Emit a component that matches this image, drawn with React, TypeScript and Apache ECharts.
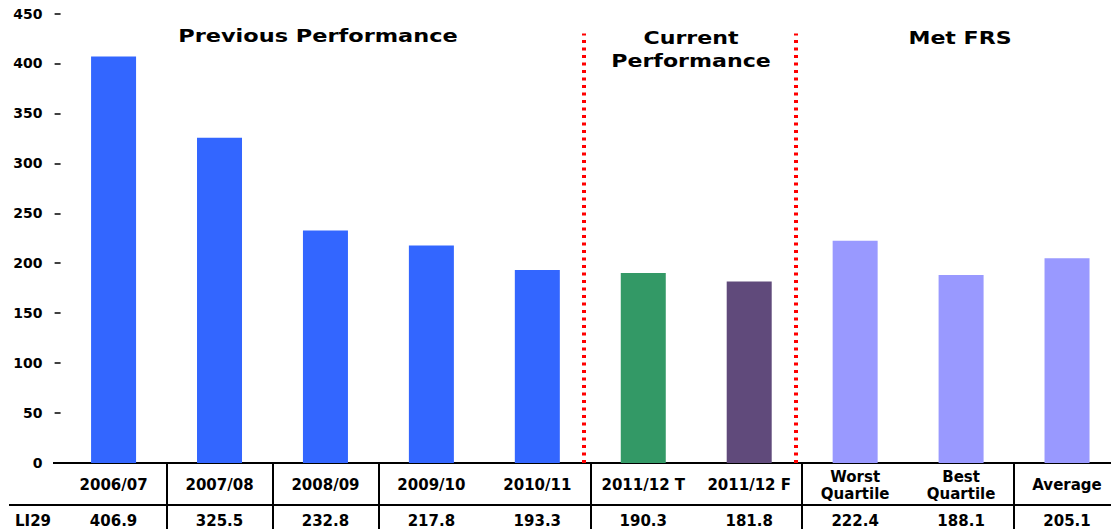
import React, { useEffect, useRef } from "react";
import * as echarts from "echarts";

// ---- data ----
const categories = [
  "2006/07",
  "2007/08",
  "2008/09",
  "2009/10",
  "2010/11",
  "2011/12 T",
  "2011/12 F",
  "Worst\nQuartile",
  "Best\nQuartile",
  "Average",
];
const values = [406.9, 325.5, 232.8, 217.8, 193.3, 190.3, 181.8, 222.4, 188.1, 205.1];
const barColors = [
  "#3366FF",
  "#3366FF",
  "#3366FF",
  "#3366FF",
  "#3366FF",
  "#339966",
  "#604A7B",
  "#9999FF",
  "#9999FF",
  "#9999FF",
];
const rowLabel = "LI29";
const yMin = 0;
const yMax = 450;
const yInterval = 50;
// table dividers sit at the left boundary of these category indices
const dividerIndices = [1, 2, 3, 5, 7, 9];
// section separators (positions on a hidden 0..10 band scale) and their top value
const separatorPositions = [4.94, 6.94];
const separatorTop = 430;
const sectionTitles = ["Previous Performance", "Current", "Performance", "Met FRS"];

const FONT = '"DejaVu Sans", "Liberation Sans", sans-serif';

export default function App() {
  const ref = useRef<HTMLDivElement | null>(null);

  useEffect(() => {
    if (!ref.current) return;
    const chart = echarts.init(ref.current, null, { renderer: "svg" });

    const tickFn = (i: number) => dividerIndices.includes(i);
    const blackLine = { color: "#000", width: 2 };
    const labelBase = {
      fontFamily: FONT,
      fontWeight: "bold" as const,
      fontSize: 15,
      color: "#000",
    };
    const titleStyle = (text: string) => ({
      text,
      font: `bold 17px ${FONT}`,
      fill: "#000",
      textAlign: "center",
      textVerticalAlign: "middle",
    });

    chart.setOption({
      animation: false,
      grid: { left: 60.6, right: 0, top: 13.5, bottom: 66 },
      xAxis: [
        {
          type: "category",
          data: categories,
          position: "bottom",
          axisLine: { show: true, lineStyle: blackLine },
          axisTick: { show: true, length: 42, interval: tickFn, lineStyle: blackLine },
          axisLabel: {
            ...labelBase,
            interval: 0,
            margin: 22,
            verticalAlign: "middle",
            lineHeight: 17,
          },
          splitLine: { show: false },
        },
        {
          type: "category",
          data: values.map((v) => v.toFixed(1)),
          position: "bottom",
          offset: 42,
          axisLine: { show: true, lineStyle: blackLine },
          axisTick: { show: true, length: 26, interval: tickFn, lineStyle: blackLine },
          axisLabel: {
            ...labelBase,
            interval: 0,
            margin: 16,
            verticalAlign: "middle",
          },
          splitLine: { show: false },
        },
        {
          type: "value",
          min: 0,
          max: categories.length,
          show: false,
        },
      ],
      yAxis: {
        type: "value",
        min: yMin,
        max: yMax,
        interval: yInterval,
        offset: 1,
        axisLine: { show: false },
        axisTick: { show: true, length: 6, lineStyle: { color: "#000", width: 1.5 } },
        axisLabel: { ...labelBase, fontSize: 14, margin: 17 },
        splitLine: { show: false },
      },
      series: [
        {
          type: "bar",
          xAxisIndex: 0,
          barWidth: 45,
          silent: true,
          data: values.map((v, i) => ({ value: v, itemStyle: { color: barColors[i] } })),
        },
        {
          type: "scatter",
          xAxisIndex: 2,
          symbolSize: 0,
          silent: true,
          data: [[separatorPositions[0], 0]],
          markLine: {
            symbol: "none",
            silent: true,
            label: { show: false },
            lineStyle: { color: "#FF0000", width: 4, type: [3, 4.5] },
            data: separatorPositions.map((x) => [
              { coord: [x, 0] },
              { coord: [x, separatorTop] },
            ]),
          },
        },
      ],
      graphic: [
        {
          type: "line",
          silent: true,
          shape: { x1: 53, y1: 463, x2: 62, y2: 463 },
          style: { stroke: "#000", lineWidth: 2 },
        },
        {
          type: "line",
          silent: true,
          shape: { x1: 9, y1: 505, x2: 62, y2: 505 },
          style: { stroke: "#000", lineWidth: 2 },
        },
        {
          type: "text",
          silent: true,
          x: 15,
          y: 521,
          style: {
            text: rowLabel,
            font: `bold 15px ${FONT}`,
            fill: "#000",
            textAlign: "left",
            textVerticalAlign: "middle",
          },
        },
        {
          type: "text",
          silent: true,
          x: 318,
          y: 36,
          scaleX: 1.32,
          style: titleStyle(sectionTitles[0]),
        },
        {
          type: "text",
          silent: true,
          x: 691,
          y: 38,
          scaleX: 1.3,
          style: titleStyle(sectionTitles[1]),
        },
        {
          type: "text",
          silent: true,
          x: 691,
          y: 61,
          scaleX: 1.3,
          style: titleStyle(sectionTitles[2]),
        },
        {
          type: "text",
          silent: true,
          x: 960,
          y: 38,
          scaleX: 1.3,
          style: titleStyle(sectionTitles[3]),
        },
      ],
    });

    return () => {
      chart.dispose();
    };
  }, []);

  return (
    <div
      style={{
        position: "absolute",
        left: 0,
        top: 0,
        width: 1111,
        height: 529,
        overflow: "hidden",
        background: "#fff",
      }}
    >
      <div ref={ref} style={{ width: 1120, height: 529 }} />
    </div>
  );
}
